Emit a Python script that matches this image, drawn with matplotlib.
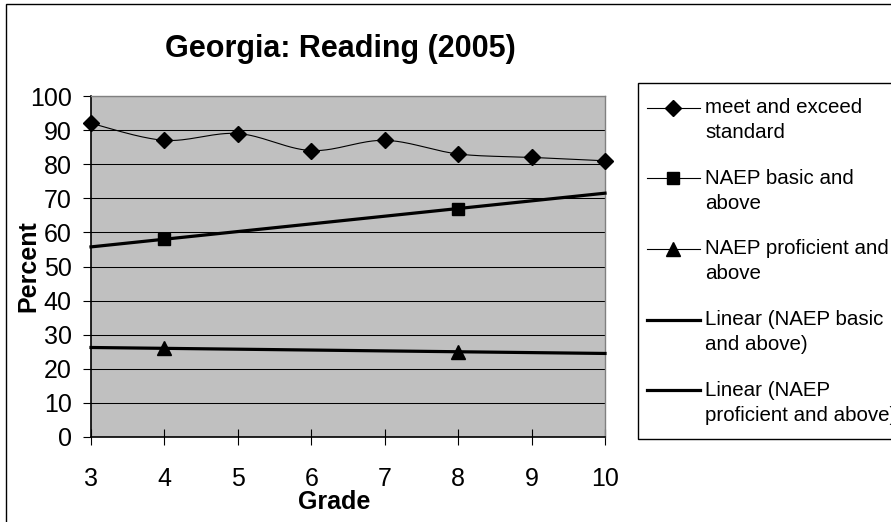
import numpy as np
import matplotlib
matplotlib.use("Agg")
import matplotlib.pyplot as plt
from matplotlib.lines import Line2D
from matplotlib.legend_handler import HandlerLine2D
from matplotlib.patches import Rectangle

# ---- data ----
grades = [3, 4, 5, 6, 7, 8, 9, 10]
meet_exceed = [92, 87, 89, 84, 87, 83, 82, 81]
naep_grades = [4, 8]
naep_basic = [58, 67]
naep_proficient = [26, 25]
x_ticks = [3, 4, 5, 6, 7, 8, 9, 10]
y_ticks = [0, 10, 20, 30, 40, 50, 60, 70, 80, 90, 100]
labels = ["meet and exceed\nstandard",
          "NAEP basic and\nabove",
          "NAEP proficient and\nabove",
          "Linear (NAEP basic\nand above)",
          "Linear (NAEP\nproficient and above)"]
title = "Georgia: Reading (2005)"

plt.rcParams['font.family'] = ['Liberation Sans', 'DejaVu Sans']

W, H = 891, 522
fig = plt.figure(figsize=(W / 100, H / 100), dpi=100)
fig.patch.set_facecolor('white')
ax = fig.add_axes([91 / W, 1 - 437 / H, (605 - 91) / W, (437 - 96) / H])
ax.set_facecolor('#C0C0C0')


def smooth(x, y, n=30):
    P = np.column_stack([x, y]).astype(float)
    Pe = np.vstack([P[0], P, P[-1]])
    t = np.linspace(0, 1, n)[:, None]
    out = []
    for i in range(len(P) - 1):
        p0, p1, p2, p3 = Pe[i], Pe[i + 1], Pe[i + 2], Pe[i + 3]
        c1 = p1 + (p2 - p0) / 6
        c2 = p2 - (p3 - p1) / 6
        seg = (1 - t) ** 3 * p1 + 3 * (1 - t) ** 2 * t * c1 + 3 * (1 - t) * t ** 2 * c2 + t ** 3 * p2
        out.append(seg if i == 0 else seg[1:])
    return np.vstack(out), n - 1


curve, step = smooth(grades, meet_exceed)
mark_idx = [i * step for i in range(len(grades))]
h1, = ax.plot(curve[:, 0], curve[:, 1], color='black', lw=0.8, marker='D', ms=7.8,
              markevery=mark_idx, clip_on=False, zorder=5)
h2, = ax.plot(naep_grades, naep_basic, color='black', lw=0.8, marker='s', ms=9, zorder=5)
h3, = ax.plot(naep_grades, naep_proficient, color='black', lw=0.8, marker='^', ms=10.5, zorder=5)

xs = np.array([x_ticks[0], x_ticks[-1]], dtype=float)
cb = np.polyfit(naep_grades, naep_basic, 1)
cp = np.polyfit(naep_grades, naep_proficient, 1)
h4, = ax.plot(xs, np.polyval(cb, xs), color='black', lw=2.3, zorder=4, clip_on=False)
h5, = ax.plot(xs, np.polyval(cp, xs), color='black', lw=2.3, zorder=4, clip_on=False)

ax.set_xlim(3, 10)
ax.set_ylim(0, 100)
ax.set_xticks(x_ticks)
ax.set_yticks(y_ticks)
ax.set_axisbelow(True)
ax.yaxis.grid(True, color='black', lw=0.75)
ax.xaxis.grid(False)
for s in ['left', 'bottom']:
    ax.spines[s].set_color('black')
    ax.spines[s].set_linewidth(1.2)
for s in ['top', 'right']:
    ax.spines[s].set_color('#808080')
    ax.spines[s].set_linewidth(1)
ax.tick_params(axis='x', direction='inout', length=12, width=0.8, pad=15.5, labelsize=18)
ax.tick_params(axis='y', direction='out', length=6, width=0.8, pad=8, labelsize=18)

fig.text(340 / W, 1 - 49 / H, title, fontsize=22, fontweight='bold', ha='center', va='center')
fig.text(28 / W, 1 - 266 / H, "Percent", fontsize=18, fontweight='bold', rotation=90,
         ha='center', va='center')
fig.text(334 / W, 1 - 502 / H, "Grade", fontsize=18, fontweight='bold', ha='center', va='center')


class ShiftedHandler(HandlerLine2D):
    """Aligns the legend handle with the first line of a two-line label."""

    def __init__(self, shift, extend, **kw):
        super().__init__(**kw)
        self.shift = shift
        self.extend = extend

    def create_artists(self, legend, orig_handle, xdescent, ydescent, width, height,
                       fontsize, trans):
        arts = super().create_artists(legend, orig_handle, xdescent, ydescent, width, height,
                                      fontsize, trans)
        for a in arts:
            xd = np.asarray(a.get_xdata(), dtype=float)
            x0, x1 = xd[0] - self.extend, xd[-1]
            a.set_xdata(np.linspace(x0, x1, len(xd)))
            a.set_ydata(np.asarray(a.get_ydata()) + self.shift)
        return arts


leg = fig.legend([h1, h2, h3, h4, h5], labels, loc='upper left',
                 bbox_to_anchor=(638 / W, 1 - 83 / H), bbox_transform=fig.transFigure,
                 frameon=True, fancybox=False, edgecolor='black', facecolor='white', framealpha=1,
                 fontsize=14.8, handlelength=2.28, handletextpad=0.28, labelspacing=1.3,
                 borderpad=0.72, borderaxespad=0, numpoints=1,
                 handler_map={Line2D: ShiftedHandler(9, 4.3)})
leg.get_frame().set_linewidth(1)
for t in leg.get_texts():
    t.set_linespacing(1.4)

fig.add_artist(Rectangle((6 / W, -1), 5, 2 - 3.5 / H, transform=fig.transFigure,
                         fill=False, edgecolor='black', lw=1))

fig.savefig('out.png', dpi=100)
